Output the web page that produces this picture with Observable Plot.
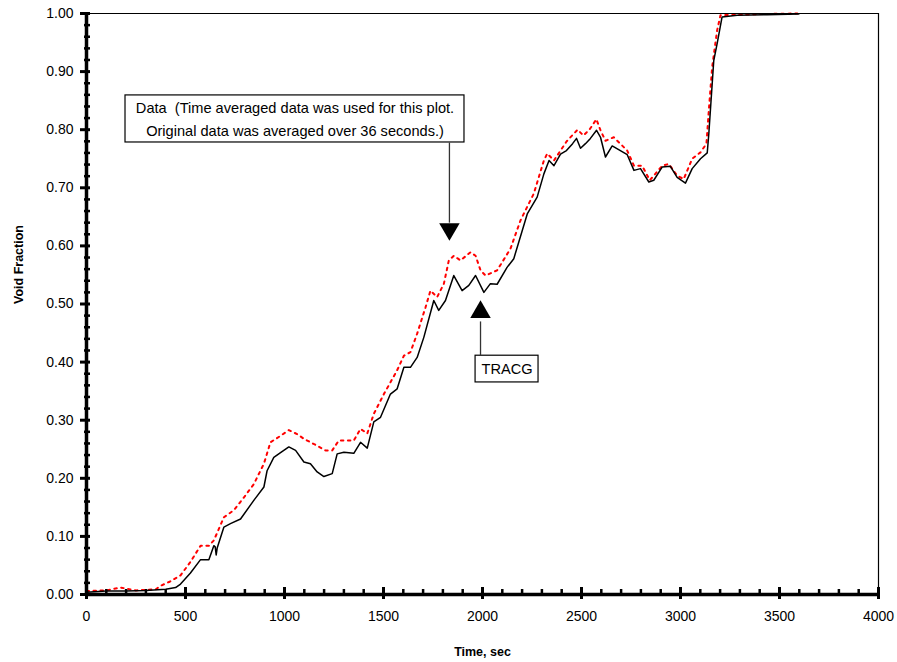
<!DOCTYPE html>
<html>
<head>
<meta charset="utf-8">
<script src="https://cdn.jsdelivr.net/npm/d3@7"></script>
<script src="https://cdn.jsdelivr.net/npm/@observablehq/plot@0.6"></script>
<style>
  html, body { margin: 0; padding: 0; background: #fff; }
  #chart { width: 897px; height: 662px; }
  svg { font-family: "Liberation Sans", Arial, sans-serif; }
</style>
</head>
<body>
<div id="chart"></div>
<script>
// TRACG (black solid)
const tracgTime = [0,100,200,300,400,450,475,525,576,618,643,650,655,660,694,727,778,845,896,912,946,980,1022,1056,1098,1131,1165,1199,1241,1266,1300,1350,1384,1418,1451,1485,1535,1569,1603,1636,1670,1704,1754,1779,1813,1855,1897,1931,1965,2007,2040,2074,2124,2158,2226,2276,2310,2336,2361,2394,2424,2455,2475,2495,2520,2545,2576,2596,2621,2655,2731,2765,2798,2840,2865,2908,2949,2983,3025,3059,3101,3135,3143,3168,3185,3210,3286,3437,3598];
const tracgVoid = [0.004,0.006,0.006,0.007,0.009,0.012,0.018,0.037,0.060,0.060,0.084,0.082,0.068,0.080,0.116,0.122,0.130,0.162,0.185,0.213,0.236,0.244,0.254,0.248,0.228,0.225,0.211,0.203,0.208,0.242,0.245,0.243,0.262,0.252,0.297,0.305,0.345,0.354,0.391,0.391,0.408,0.443,0.506,0.489,0.506,0.549,0.523,0.532,0.549,0.520,0.535,0.534,0.563,0.578,0.655,0.684,0.724,0.747,0.738,0.758,0.764,0.776,0.785,0.768,0.776,0.785,0.799,0.787,0.753,0.772,0.757,0.730,0.733,0.710,0.713,0.736,0.737,0.718,0.708,0.733,0.750,0.760,0.793,0.919,0.948,0.994,0.997,0.998,0.999];

// Data (red dotted)
const dataTime = [0,100,172,250,350,374,420,475,525,576,618,643,694,744,795,845,896,929,975,1022,1064,1098,1165,1207,1241,1274,1316,1350,1384,1418,1451,1502,1569,1603,1636,1670,1712,1737,1771,1805,1830,1855,1889,1939,1965,1990,2015,2074,2141,2192,2259,2310,2327,2361,2394,2425,2480,2510,2540,2575,2596,2621,2663,2731,2765,2806,2845,2908,2941,2983,3016,3059,3101,3131,3143,3160,3185,3202,3400,3590];
const dataVoid = [0.006,0.007,0.012,0.007,0.009,0.015,0.022,0.033,0.056,0.084,0.084,0.093,0.133,0.145,0.167,0.190,0.225,0.262,0.272,0.283,0.276,0.268,0.256,0.248,0.248,0.265,0.265,0.265,0.285,0.277,0.311,0.345,0.386,0.411,0.417,0.449,0.494,0.523,0.512,0.535,0.575,0.583,0.575,0.589,0.583,0.558,0.549,0.558,0.595,0.644,0.690,0.747,0.759,0.747,0.764,0.780,0.800,0.790,0.800,0.818,0.799,0.781,0.787,0.764,0.738,0.738,0.713,0.738,0.741,0.721,0.715,0.750,0.761,0.776,0.833,0.908,0.971,0.997,0.999,1.000];

// Axes
const xMajor = [0,500,1000,1500,2000,2500,3000,3500,4000];
const xMinor = d3.range(0, 4001, 100).filter(v => v % 500 !== 0);
const yMajor = [0,0.1,0.2,0.3,0.4,0.5,0.6,0.7,0.8,0.9,1.0];
const yMinor = d3.range(0, 51).map(i => i / 50).filter((v, i) => i % 5 !== 0);

// Annotations
const dataNoteLines = ["Data  (Time averaged data was used for this plot.", "Original data was averaged over 36 seconds.)"];
const dataNoteLineY = [0.836, 0.798];
const dataNoteBox = {x1: 197, x2: 1909, y1: 0.778, y2: 0.859};
const dataNoteCenterX = 1053;
const dataArrow = {x: 1833, yFrom: 0.778, yTo: 0.640, head: 0.629};
const tracgNote = "TRACG";
const tracgBox = {x1: 1965, x2: 2283, y1: 0.365, y2: 0.411};
const tracgArrow = {x: 1990, yFrom: 0.411, yTo: 0.470, head: 0.486};

const tracg = tracgTime.map((t, i) => ({t, v: tracgVoid[i]}));
const dat = dataTime.map((t, i) => ({t, v: dataVoid[i]}));

const W = 897, H = 662;
const mL = 86, mR = 19, mT = 13, mB = 68;
const xPx = 4000 / (W - mL - mR);
const yPx = 1 / (H - mT - mB);

const chart = Plot.plot({
  width: W, height: H,
  marginLeft: mL, marginRight: mR, marginTop: mT, marginBottom: mB,
  style: {fontFamily: '"Liberation Sans", Arial, sans-serif', background: "#fff", color: "#000"},
  x: {domain: [0, 4000]},
  y: {domain: [0, 1]},
  marks: [
    // lines
    Plot.line(dat, {x: "t", y: "v", stroke: "#ff0000", strokeWidth: 2, strokeDasharray: "2.5,4.5"}),
    Plot.line(tracg, {x: "t", y: "v", stroke: "#000", strokeWidth: 1.5}),
    // frame top/right
    Plot.ruleY([1], {stroke: "#000", strokeWidth: 1.2}),
    Plot.ruleX([4000], {stroke: "#000", strokeWidth: 1.2}),
    // axes thick lines
    Plot.ruleY([0], {stroke: "#000", strokeWidth: 3.5}),
    Plot.ruleX([0], {stroke: "#000", strokeWidth: 3.5}),
    // x ticks
    Plot.ruleX(xMajor, {y1: -5 * yPx, y2: 7 * yPx, stroke: "#000", strokeWidth: 3}),
    Plot.ruleX(xMinor, {y1: 0, y2: 5 * yPx, stroke: "#000", strokeWidth: 2.5}),
    // y ticks
    Plot.ruleY(yMajor, {x1: -6 * xPx, x2: 4 * xPx, stroke: "#000", strokeWidth: 3}),
    Plot.ruleY(yMinor, {x1: -2 * xPx, x2: 4 * xPx, stroke: "#000", strokeWidth: 2.5}),
    // tick labels
    Plot.axisX(xMajor, {tickSize: 0, tickPadding: 17, fontSize: 14, tickFormat: d => String(d), label: null}),
    Plot.axisY(yMajor, {tickSize: 0, tickPadding: 13, fontSize: 14, tickFormat: d3.format(".2f"), label: null}),
    Plot.text(["Time, sec"], {frameAnchor: "bottom", dy: 61, text: d => d, fontSize: 12.5, fontWeight: "bold"}),
    Plot.text(["Void Fraction"], {frameAnchor: "left", dx: -68, rotate: -90, text: d => d, fontSize: 12.5, fontWeight: "bold"}),
    // Data annotation
    Plot.rect([dataNoteBox], {x1: "x1", x2: "x2", y1: "y1", y2: "y2", fill: "#fff", stroke: "#000", strokeWidth: 1.2}),
    Plot.text(dataNoteLines, {x: dataNoteCenterX, y: (d, i) => dataNoteLineY[i], text: d => d, fontSize: 14.6, fill: "#000"}),
    Plot.link([dataArrow], {x1: "x", x2: "x", y1: "yFrom", y2: "yTo", stroke: "#333", strokeWidth: 1.3}),
    Plot.dot([dataArrow], {x: "x", y: "head", symbol: "triangle", r: 7.6, fill: "#000", stroke: "none", rotate: 180}),
    // TRACG annotation
    Plot.rect([tracgBox], {x1: "x1", x2: "x2", y1: "y1", y2: "y2", fill: "#fff", stroke: "#000", strokeWidth: 1.2}),
    Plot.text([tracgNote], {x: (tracgBox.x1 + tracgBox.x2) / 2, y: (tracgBox.y1 + tracgBox.y2) / 2, text: d => d, fontSize: 14.6, fill: "#000"}),
    Plot.link([tracgArrow], {x1: "x", x2: "x", y1: "yFrom", y2: "yTo", stroke: "#333", strokeWidth: 1.3}),
    Plot.dot([tracgArrow], {x: "x", y: "head", symbol: "triangle", r: 7.6, fill: "#000", stroke: "none"})
  ]
});
document.getElementById("chart").appendChild(chart);
</script>
</body>
</html>
